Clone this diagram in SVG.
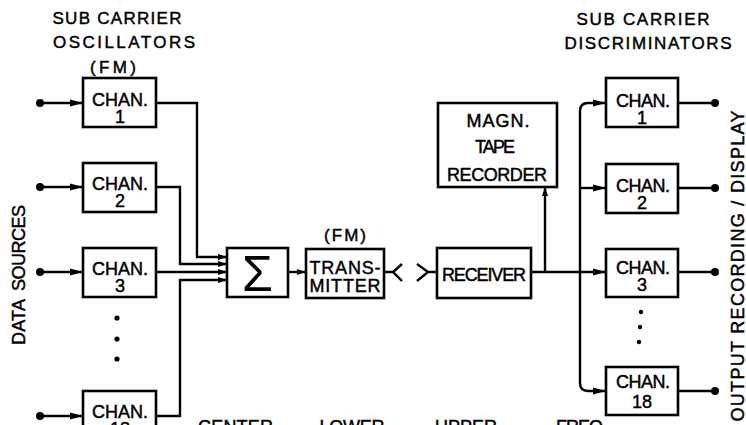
<svg xmlns="http://www.w3.org/2000/svg" width="746" height="425" viewBox="0 0 746 425">
<defs>
<style>
.box{fill:#fff;stroke:#000;stroke-width:2.6}
.w{fill:none;stroke:#000;stroke-width:2.4}
.t{font-family:"Liberation Sans",Arial,sans-serif;font-size:18px;text-anchor:middle;fill:#000;stroke:#000;stroke-width:0.45}
.s{font-size:17px}
.dot{fill:#000}
</style>
<marker id="ah" markerUnits="userSpaceOnUse" markerWidth="14" markerHeight="9" refX="13" refY="4.5" orient="auto"><path d="M0,1 L13,4.5 L0,8 z" fill="#000"/></marker>
<marker id="as" markerUnits="userSpaceOnUse" markerWidth="10" markerHeight="7" refX="9" refY="3.5" orient="auto"><path d="M0,0.5 L9,3.5 L0,6.5 z" fill="#000"/></marker>
</defs>
<rect width="746" height="425" fill="#fff"/>

<g id="labels">
<text class="t s" x="117" y="24" textLength="129">SUB CARRIER</text>
<text class="t s" x="124" y="48" textLength="142">OSCILLATORS</text>
<text class="t s" x="113" y="73" textLength="46">(FM)</text>
<text class="t s" x="643" y="25" textLength="133">SUB CARRIER</text>
<text class="t s" x="648" y="49" textLength="167">DISCRIMINATORS</text>
<text class="t s" x="345" y="241" textLength="42">(FM)</text>
<text class="t" transform="translate(25,248) rotate(-90)" textLength="86">SOURCES</text>
<text class="t" transform="translate(25,322) rotate(-90)" textLength="46">DATA</text>
<text class="t" transform="translate(744,266) rotate(-90)" textLength="311">OUTPUT  RECORDING / DISPLAY</text>
<text class="t" x="235.5" y="433" textLength="75">CENTER</text>
<text class="t" x="352" y="433" textLength="65">LOWER</text>
<text class="t" x="466" y="433" textLength="62">UPPER</text>
<text class="t" x="579.5" y="433" textLength="47">FREQ</text>
<circle class="dot" cx="117" cy="318" r="2.6"/>
<circle class="dot" cx="117" cy="339" r="2.6"/>
<circle class="dot" cx="117" cy="359" r="2.6"/>
<circle class="dot" cx="641" cy="312" r="2.2"/>
<circle class="dot" cx="640" cy="327" r="2.2"/>
<circle class="dot" cx="639" cy="342" r="2.2"/>
</g>

<g id="connectors">
<circle class="dot" cx="40" cy="103" r="4"/>
<circle class="dot" cx="40" cy="187" r="4"/>
<circle class="dot" cx="40" cy="272" r="4"/>
<circle class="dot" cx="40" cy="416" r="4"/>
<path class="w" d="M40,103 H83" marker-end="url(#ah)"/>
<path class="w" d="M40,187 H83" marker-end="url(#ah)"/>
<path class="w" d="M40,272 H83" marker-end="url(#ah)"/>
<path class="w" d="M40,416 H83" marker-end="url(#ah)"/>
<path class="w" d="M156,103 H197 V257 H227" marker-end="url(#as)"/>
<path class="w" d="M156,187 H180 V264 H227" marker-end="url(#as)"/>
<path class="w" d="M156,272 H227" marker-end="url(#as)"/>
<path class="w" d="M156,416 H180 V280 H227" marker-end="url(#as)"/>
<path class="w" d="M288,272 H306" marker-end="url(#as)"/>
<path class="w" d="M384,272 H393 M402,264 L393,272 L402,281 M417,264 L428,272 L417,281 M428,272 H437"/>
<path class="w" d="M531,272 H606" marker-end="url(#ah)"/>
<path class="w" d="M545,272 V187" marker-end="url(#as)"/>
<path class="w" d="M580,272 V111 Q580,103 588,103 H606" marker-end="url(#ah)"/>
<path class="w" d="M580,272 V383 Q580,391 588,391 H606" marker-end="url(#ah)"/>
<path class="w" d="M580,188 H606" marker-end="url(#ah)"/>
<path class="w" d="M678,103 H715 M678,188 H715 M678,272 H715 M678,391 H715"/>
<circle class="dot" cx="715" cy="103" r="4"/>
<circle class="dot" cx="715" cy="188" r="4"/>
<circle class="dot" cx="715" cy="272" r="4"/>
<circle class="dot" cx="715" cy="391" r="4"/>
</g>

<g id="osc1"><rect class="box" x="83" y="78" width="73" height="49"/><text class="t" x="120" y="106">CHAN.</text><text class="t" x="120" y="123">1</text></g>
<g id="osc2"><rect class="box" x="83" y="163" width="73" height="49"/><text class="t" x="120" y="190">CHAN.</text><text class="t" x="120" y="207">2</text></g>
<g id="osc3"><rect class="box" x="83" y="248" width="73" height="49"/><text class="t" x="120" y="275">CHAN.</text><text class="t" x="120" y="292">3</text></g>
<g id="osc18"><rect class="box" x="83" y="391" width="73" height="49"/><text class="t" x="120" y="418">CHAN.</text><text class="t" x="120" y="435">18</text></g>
<g id="sum"><rect class="box" x="227" y="248" width="61" height="49"/><text class="t" x="257.5" y="291" style="font-size:50px;stroke-width:0">Σ</text></g>
<g id="transmitter"><rect class="box" x="306" y="249" width="78" height="49"/><text class="t" x="345" y="274" textLength="71">TRANS-</text><text class="t" x="345" y="292" textLength="71">MITTER</text></g>
<g id="receiver"><rect class="box" x="437" y="248" width="94" height="50"/><text class="t" x="484" y="281" textLength="84">RECEIVER</text></g>
<g id="tape"><rect class="box" x="438" y="103" width="119" height="84"/><text class="t" x="498" y="127" textLength="63">MAGN.</text><text class="t" x="495" y="153" textLength="40">TAPE</text><text class="t" x="497" y="181" textLength="100">RECORDER</text></g>
<g id="disc1"><rect class="box" x="606" y="78" width="72" height="49"/><text class="t" x="643" y="107" textLength="54">CHAN.</text><text class="t" x="642" y="124">1</text></g>
<g id="disc2"><rect class="box" x="606" y="164" width="72" height="49"/><text class="t" x="643" y="192" textLength="54">CHAN.</text><text class="t" x="642" y="209">2</text></g>
<g id="disc3"><rect class="box" x="606" y="249" width="72" height="48"/><text class="t" x="643" y="274" textLength="54">CHAN.</text><text class="t" x="642" y="291">3</text></g>
<g id="disc18"><rect class="box" x="606" y="367" width="72" height="48"/><text class="t" x="643" y="388" textLength="54">CHAN.</text><text class="t" x="642" y="408">18</text></g>
</svg>
